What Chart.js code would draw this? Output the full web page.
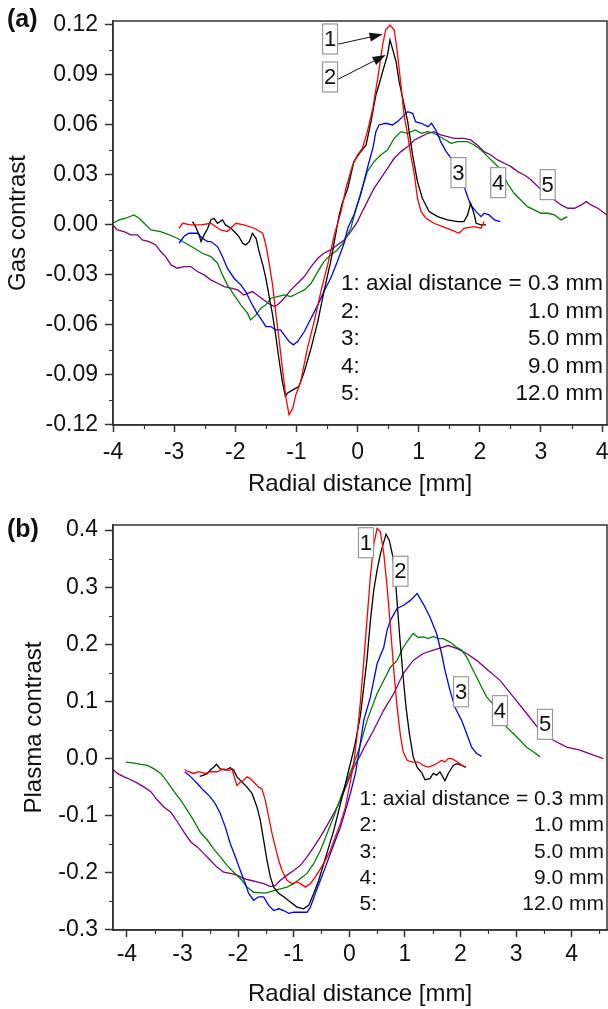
<!DOCTYPE html>
<html>
<head>
<meta charset="utf-8">
<script src="https://cdn.jsdelivr.net/npm/chart.js@4"></script>
<style>
  body { margin: 0; background: #fff; width: 608px; height: 1009px; overflow: hidden; }
  .panel { position: absolute; left: 0; width: 608px; }
</style>
</head>
<body>
<div class="panel" style="top:0;height:500px"><canvas id="gas" width="608" height="500"></canvas></div>
<div class="panel" style="top:500px;height:509px"><canvas id="plasma" width="608" height="509"></canvas></div>
<script>
const FONT = "'Liberation Sans', Arial, sans-serif";
const colors = ["#ff0000", "#000000", "#0000ff", "#008000", "#800080"];
const curveNames = ["1", "2", "3", "4", "5"];
const distances = ["0.3", "1.0", "5.0", "9.0", "12.0"];

// (a) gas contrast vs radial distance
const gasX1 = [-2.92,-2.86,-2.73,-2.56,-2.40,-2.24,-2.13,-1.99,-1.86,-1.69,-1.55,-1.50,-1.45,-1.39,-1.34,-1.28,-1.23,-1.17,-1.12,-1.06,-1.01,-0.93,-0.82,-0.71,-0.60,-0.49,-0.38,-0.27,-0.19,-0.08,0.00,0.08,0.16,0.25,0.33,0.41,0.46,0.53,0.60,0.65,0.71,0.76,0.82,0.87,0.93,0.98,1.04,1.12,1.25,1.39,1.53,1.66,1.74,1.91,2.02,2.07];
const gasY1 = [-0.002,0.001,0.000,0.000,0.001,-0.003,-0.004,0.001,0.000,-0.002,-0.005,-0.012,-0.022,-0.036,-0.052,-0.070,-0.086,-0.104,-0.114,-0.110,-0.102,-0.094,-0.074,-0.058,-0.040,-0.024,-0.006,0.008,0.022,0.036,0.042,0.046,0.056,0.070,0.088,0.108,0.117,0.120,0.117,0.104,0.084,0.066,0.054,0.042,0.030,0.016,0.008,0.004,0.001,-0.001,-0.003,-0.005,-0.002,-0.001,-0.002,0.002];
const gasX2 = [-2.70,-2.65,-2.59,-2.56,-2.51,-2.45,-2.40,-2.35,-2.29,-2.21,-2.16,-2.07,-1.99,-1.94,-1.88,-1.83,-1.77,-1.72,-1.66,-1.61,-1.55,-1.50,-1.45,-1.39,-1.34,-1.28,-1.23,-1.18,-1.15,-1.06,-0.96,-0.87,-0.76,-0.65,-0.55,-0.44,-0.36,-0.30,-0.25,-0.16,-0.06,0.03,0.14,0.22,0.30,0.35,0.41,0.49,0.53,0.57,0.63,0.68,0.74,0.82,0.90,0.98,1.06,1.17,1.31,1.47,1.64,1.74,1.80,1.85,1.91,1.94,2.02,2.10];
const gasY2 = [0.002,-0.001,-0.006,-0.010,-0.006,-0.002,0.003,0.004,0.001,0.003,0.000,-0.002,-0.005,-0.007,-0.011,-0.012,-0.010,-0.005,-0.008,-0.016,-0.024,-0.032,-0.042,-0.054,-0.066,-0.082,-0.094,-0.103,-0.101,-0.099,-0.097,-0.088,-0.074,-0.058,-0.040,-0.022,-0.006,0.006,0.013,0.022,0.038,0.043,0.048,0.062,0.078,0.084,0.092,0.102,0.111,0.106,0.098,0.086,0.076,0.062,0.042,0.026,0.016,0.008,0.005,0.003,0.002,0.002,0.006,0.013,0.006,0.001,0.000,0.000];
const gasX3 = [-2.92,-2.84,-2.76,-2.67,-2.62,-2.54,-2.45,-2.40,-2.29,-2.21,-2.13,-2.02,-1.91,-1.83,-1.75,-1.66,-1.55,-1.50,-1.42,-1.34,-1.26,-1.20,-1.12,-1.05,-0.98,-0.87,-0.76,-0.65,-0.55,-0.44,-0.33,-0.22,-0.16,-0.06,0.05,0.16,0.25,0.30,0.35,0.46,0.57,0.65,0.74,0.82,0.90,0.95,1.04,1.15,1.21,1.28,1.36,1.45,1.53,1.58,1.69,1.77,1.85,1.94,2.02,2.07,2.15,2.24,2.33];
const gasY3 = [-0.011,-0.007,-0.005,-0.005,-0.005,-0.008,-0.010,-0.010,-0.013,-0.019,-0.026,-0.032,-0.036,-0.040,-0.046,-0.052,-0.058,-0.061,-0.061,-0.063,-0.063,-0.066,-0.070,-0.072,-0.070,-0.064,-0.056,-0.048,-0.040,-0.032,-0.022,-0.011,-0.002,0.006,0.018,0.034,0.046,0.056,0.060,0.061,0.060,0.062,0.065,0.068,0.067,0.062,0.061,0.059,0.061,0.057,0.050,0.044,0.040,0.038,0.030,0.020,0.012,0.008,0.005,0.007,0.006,0.003,0.002];
const gasX4 = [-4.00,-3.90,-3.79,-3.66,-3.57,-3.49,-3.38,-3.22,-3.08,-2.95,-2.81,-2.67,-2.54,-2.40,-2.29,-2.21,-2.13,-2.02,-1.91,-1.80,-1.75,-1.66,-1.58,-1.50,-1.42,-1.31,-1.20,-1.09,-0.98,-0.87,-0.76,-0.65,-0.55,-0.44,-0.33,-0.22,-0.11,-0.06,0.05,0.16,0.27,0.38,0.49,0.60,0.71,0.82,0.95,1.04,1.15,1.25,1.39,1.53,1.64,1.80,1.91,2.02,2.13,2.24,2.35,2.45,2.56,2.67,2.78,2.89,3.00,3.11,3.22,3.33,3.43];
const gasY4 = [0.001,0.003,0.004,0.006,0.004,0.001,-0.003,-0.004,-0.006,-0.008,-0.011,-0.014,-0.017,-0.019,-0.023,-0.030,-0.036,-0.042,-0.048,-0.053,-0.057,-0.054,-0.050,-0.048,-0.044,-0.043,-0.042,-0.043,-0.041,-0.039,-0.035,-0.028,-0.022,-0.018,-0.015,-0.010,-0.002,0.005,0.019,0.032,0.038,0.042,0.045,0.052,0.056,0.055,0.057,0.055,0.056,0.055,0.052,0.049,0.050,0.050,0.048,0.045,0.041,0.037,0.033,0.025,0.019,0.015,0.011,0.009,0.007,0.007,0.006,0.003,0.005];
const gasX5 = [-4.00,-3.93,-3.82,-3.71,-3.60,-3.52,-3.41,-3.30,-3.22,-3.14,-3.05,-2.95,-2.84,-2.73,-2.62,-2.51,-2.40,-2.29,-2.18,-2.07,-1.96,-1.86,-1.72,-1.61,-1.50,-1.42,-1.35,-1.28,-1.20,-1.09,-0.98,-0.87,-0.76,-0.65,-0.55,-0.44,-0.33,-0.22,-0.11,0.00,0.05,0.16,0.27,0.38,0.49,0.60,0.71,0.82,0.93,1.04,1.15,1.25,1.36,1.47,1.58,1.74,1.85,1.96,2.07,2.18,2.29,2.40,2.51,2.62,2.73,2.84,2.95,3.03,3.11,3.22,3.33,3.44,3.55,3.66,3.74,3.82,3.93,4.04,4.08];
const gasY5 = [0.000,-0.003,-0.004,-0.006,-0.006,-0.009,-0.010,-0.012,-0.016,-0.019,-0.024,-0.026,-0.025,-0.025,-0.028,-0.030,-0.033,-0.035,-0.037,-0.038,-0.039,-0.042,-0.040,-0.043,-0.046,-0.048,-0.049,-0.047,-0.044,-0.039,-0.035,-0.031,-0.025,-0.020,-0.017,-0.015,-0.012,-0.009,-0.004,0.002,0.006,0.014,0.022,0.028,0.034,0.040,0.044,0.047,0.051,0.053,0.055,0.056,0.054,0.053,0.052,0.052,0.051,0.048,0.044,0.042,0.039,0.037,0.035,0.032,0.030,0.027,0.023,0.020,0.018,0.015,0.012,0.010,0.010,0.012,0.014,0.012,0.010,0.007,0.006];

// (b) plasma contrast vs radial distance
const plasmaX1 = [-2.96,-2.89,-2.80,-2.71,-2.59,-2.50,-2.38,-2.26,-2.17,-2.11,-2.05,-2.02,-1.96,-1.90,-1.84,-1.78,-1.72,-1.63,-1.57,-1.51,-1.45,-1.39,-1.33,-1.27,-1.21,-1.12,-1.03,-0.94,-0.88,-0.79,-0.70,-0.61,-0.52,-0.43,-0.34,-0.25,-0.16,-0.07,0.02,0.08,0.14,0.20,0.26,0.32,0.38,0.44,0.50,0.56,0.62,0.68,0.74,0.80,0.86,0.92,0.97,1.04,1.13,1.24,1.33,1.42,1.51,1.57,1.66,1.72,1.78,1.84,1.90,1.99,2.08];
const plasmaY1 = [-0.019,-0.023,-0.026,-0.023,-0.026,-0.023,-0.023,-0.018,-0.021,-0.018,-0.038,-0.047,-0.041,-0.038,-0.032,-0.035,-0.041,-0.050,-0.053,-0.073,-0.102,-0.131,-0.155,-0.178,-0.196,-0.213,-0.219,-0.216,-0.219,-0.225,-0.219,-0.207,-0.193,-0.178,-0.161,-0.137,-0.114,-0.085,-0.040,-0.008,0.040,0.100,0.170,0.245,0.320,0.375,0.403,0.397,0.359,0.301,0.230,0.155,0.090,0.040,0.012,-0.003,-0.006,-0.006,-0.012,-0.015,-0.012,-0.009,-0.003,-0.006,0.000,0.000,-0.003,-0.009,-0.015];
const plasmaX2 = [-2.69,-2.62,-2.55,-2.50,-2.44,-2.39,-2.32,-2.23,-2.14,-2.08,-2.02,-1.93,-1.84,-1.75,-1.66,-1.60,-1.54,-1.48,-1.42,-1.36,-1.27,-1.18,-1.06,-0.94,-0.82,-0.73,-0.64,-0.55,-0.46,-0.37,-0.28,-0.19,-0.10,-0.01,0.08,0.14,0.20,0.26,0.32,0.38,0.44,0.50,0.56,0.62,0.66,0.72,0.78,0.84,0.90,0.96,1.02,1.08,1.15,1.22,1.31,1.36,1.45,1.51,1.57,1.63,1.72,1.78,1.87,1.93,2.02,2.10];
const plasmaY2 = [-0.031,-0.029,-0.026,-0.020,-0.015,-0.010,-0.018,-0.020,-0.016,-0.020,-0.032,-0.041,-0.050,-0.061,-0.085,-0.108,-0.143,-0.178,-0.207,-0.225,-0.236,-0.242,-0.251,-0.260,-0.263,-0.257,-0.236,-0.213,-0.184,-0.155,-0.126,-0.091,-0.056,-0.020,0.015,0.044,0.076,0.125,0.175,0.242,0.295,0.330,0.359,0.379,0.393,0.382,0.355,0.300,0.222,0.152,0.090,0.044,0.003,-0.015,-0.026,-0.037,-0.035,-0.026,-0.029,-0.023,-0.039,-0.026,-0.012,-0.009,-0.012,-0.015];
const plasmaX3 = [-2.96,-2.85,-2.73,-2.62,-2.50,-2.41,-2.32,-2.23,-2.14,-2.05,-1.96,-1.87,-1.81,-1.72,-1.63,-1.54,-1.45,-1.36,-1.27,-1.18,-1.09,-1.00,-0.88,-0.76,-0.70,-0.61,-0.52,-0.43,-0.34,-0.25,-0.16,-0.07,0.02,0.11,0.17,0.26,0.38,0.50,0.62,0.68,0.74,0.86,0.97,1.10,1.22,1.33,1.45,1.57,1.66,1.72,1.81,1.90,2.02,2.11,2.20,2.29,2.38];
const plasmaY3 = [-0.023,-0.032,-0.044,-0.056,-0.067,-0.079,-0.096,-0.120,-0.149,-0.172,-0.196,-0.219,-0.236,-0.248,-0.242,-0.242,-0.257,-0.266,-0.263,-0.266,-0.271,-0.269,-0.269,-0.269,-0.260,-0.236,-0.213,-0.190,-0.166,-0.143,-0.120,-0.091,-0.061,-0.026,0.009,0.067,0.108,0.166,0.195,0.225,0.242,0.263,0.268,0.277,0.289,0.271,0.248,0.219,0.184,0.155,0.120,0.090,0.067,0.044,0.020,0.009,0.004];
const plasmaX4 = [-4.02,-3.87,-3.75,-3.63,-3.51,-3.39,-3.27,-3.15,-3.03,-2.91,-2.80,-2.68,-2.55,-2.44,-2.32,-2.20,-2.08,-1.96,-1.84,-1.72,-1.60,-1.48,-1.36,-1.24,-1.12,-1.00,-0.88,-0.76,-0.64,-0.52,-0.40,-0.28,-0.16,-0.04,0.08,0.17,0.32,0.50,0.65,0.74,0.86,0.97,1.10,1.15,1.24,1.33,1.42,1.51,1.60,1.69,1.81,1.93,2.02,2.11,2.20,2.29,2.38,2.47,2.59,2.71,2.83,2.95,3.07,3.19,3.31,3.43];
const plasmaY4 = [-0.006,-0.008,-0.010,-0.012,-0.018,-0.026,-0.041,-0.058,-0.073,-0.091,-0.108,-0.129,-0.143,-0.158,-0.172,-0.187,-0.199,-0.210,-0.225,-0.234,-0.235,-0.235,-0.231,-0.228,-0.225,-0.219,-0.210,-0.201,-0.184,-0.161,-0.131,-0.102,-0.070,-0.038,-0.009,0.015,0.067,0.114,0.143,0.160,0.172,0.195,0.213,0.219,0.212,0.213,0.210,0.214,0.210,0.210,0.204,0.195,0.190,0.178,0.160,0.143,0.125,0.108,0.095,0.079,0.055,0.044,0.032,0.020,0.012,0.003];
const plasmaX5 = [-4.25,-4.17,-4.05,-3.93,-3.81,-3.69,-3.57,-3.45,-3.33,-3.21,-3.09,-2.97,-2.85,-2.73,-2.62,-2.50,-2.38,-2.26,-2.14,-2.02,-1.90,-1.78,-1.66,-1.54,-1.42,-1.33,-1.24,-1.12,-1.00,-0.88,-0.76,-0.64,-0.52,-0.40,-0.28,-0.16,-0.04,0.08,0.20,0.26,0.44,0.62,0.80,0.97,1.15,1.33,1.51,1.69,1.78,1.93,2.11,2.29,2.47,2.71,2.95,3.19,3.40,3.67,3.91,4.15,4.39,4.57];
const plasmaY5 = [-0.019,-0.026,-0.032,-0.037,-0.043,-0.050,-0.058,-0.073,-0.085,-0.094,-0.111,-0.129,-0.146,-0.155,-0.166,-0.178,-0.190,-0.199,-0.201,-0.204,-0.210,-0.213,-0.216,-0.219,-0.224,-0.222,-0.213,-0.204,-0.196,-0.187,-0.172,-0.155,-0.137,-0.117,-0.096,-0.073,-0.044,-0.015,0.006,0.018,0.050,0.085,0.114,0.149,0.172,0.184,0.190,0.195,0.198,0.193,0.184,0.172,0.157,0.137,0.108,0.079,0.053,0.032,0.020,0.015,0.006,0.000];

// frame, minor ticks, curve tags, arrows and the distance list
const decor = {
  id: "decor",
  afterDraw(chart, args, o) {
    const { ctx, chartArea: a, scales: { x, y } } = chart;
    ctx.save();
    ctx.strokeStyle = "#333";
    ctx.lineWidth = 1.5;
    ctx.strokeRect(a.left, a.top, a.right - a.left, a.bottom - a.top);

    ctx.lineWidth = 1.2;
    ctx.beginPath();
    for (let k = Math.ceil(x.min / o.minorX); k * o.minorX <= x.max + 1e-9; k++) {
      if (k % 2 === 0) continue;
      const px = Math.round(x.getPixelForValue(k * o.minorX)) + 0.5;
      ctx.moveTo(px, a.bottom); ctx.lineTo(px, a.bottom + 4);
    }
    for (let k = Math.ceil(y.min / o.minorY - 1e-6); k * o.minorY <= y.max + 1e-9; k++) {
      if (k % 2 === 0) continue;
      const py = Math.round(y.getPixelForValue(k * o.minorY)) + 0.5;
      ctx.moveTo(a.left, py); ctx.lineTo(a.left - 4, py);
    }
    ctx.stroke();

    // arrows
    ctx.strokeStyle = "#111";
    ctx.fillStyle = "#111";
    ctx.lineWidth = 1;
    for (const ar of o.arrows) {
      const x0 = x.getPixelForValue(ar.from[0]), y0 = y.getPixelForValue(ar.from[1]);
      const x1 = x.getPixelForValue(ar.to[0]), y1 = y.getPixelForValue(ar.to[1]);
      const c = Math.cos(Math.atan2(y1 - y0, x1 - x0)), s = Math.sin(Math.atan2(y1 - y0, x1 - x0));
      ctx.beginPath(); ctx.moveTo(x0, y0); ctx.lineTo(x1 - 10 * c, y1 - 10 * s); ctx.stroke();
      ctx.beginPath();
      ctx.moveTo(x1, y1);
      ctx.lineTo(x1 - 13 * c + 4.5 * s, y1 - 13 * s - 4.5 * c);
      ctx.lineTo(x1 - 13 * c - 4.5 * s, y1 - 13 * s + 4.5 * c);
      ctx.closePath(); ctx.fill();
    }

    // tag boxes
    ctx.font = `22px ${FONT}`;
    ctx.textAlign = "center";
    ctx.textBaseline = "middle";
    o.tags.forEach((t, i) => {
      const cx = x.getPixelForValue(t.x), cy = y.getPixelForValue(t.y);
      ctx.fillStyle = "#fff";
      ctx.fillRect(cx - 7.5, cy - 15, 15, 30);
      ctx.strokeStyle = "#999";
      ctx.lineWidth = 1.2;
      ctx.strokeRect(cx - 7.5, cy - 15, 15, 30);
      ctx.fillStyle = "#111";
      ctx.fillText(curveNames[i], cx, cy + 1);
    });

    // distance list
    const lg = o.legend;
    ctx.font = `${lg.size}px ${FONT}`;
    ctx.textBaseline = "alphabetic";
    ctx.fillStyle = "#111";
    const right = a.right - lg.right;
    const first = `${curveNames[0]}: axial distance = ${distances[0]} mm`;
    const left = right - ctx.measureText(first).width;
    distances.forEach((d, i) => {
      const yb = a.bottom - lg.bottom - (distances.length - 1 - i) * lg.step;
      ctx.textAlign = "left";
      if (i === 0) { ctx.fillText(first, left, yb); return; }
      ctx.fillText(`${curveNames[i]}:`, left, yb);
      ctx.textAlign = "right";
      ctx.fillText(`${d} mm`, right, yb);
    });

    // panel letter
    ctx.font = `bold 25px ${FONT}`;
    ctx.textAlign = "left";
    ctx.fillText(o.letter, 7, o.letterY);
    ctx.restore();
  },
};

function makePanel(id, p) {
  const datasets = p.xs.map((xs, i) => ({
    label: curveNames[i],
    data: xs.map((v, j) => ({ x: v, y: p.ys[i][j] })),
    borderColor: colors[i],
    borderWidth: 1.3,
    pointRadius: 0,
    tension: 0,
    fill: false,
  }));
  const axisColor = "#333";
  return new Chart(document.getElementById(id), {
    type: "line",
    data: { datasets },
    options: {
      responsive: false,
      animation: false,
      devicePixelRatio: 1,
      layout: { padding: { top: p.top, right: 1, left: 0, bottom: 0 } },
      plugins: { legend: { display: false }, tooltip: { enabled: false }, decor: p.decor },
      scales: {
        x: {
          type: "linear",
          min: p.xMin, max: p.xMax,
          border: { display: true, color: axisColor, width: 1.5 },
          grid: { drawOnChartArea: false, tickLength: 7, tickColor: axisColor, tickWidth: 1.5 },
          ticks: {
            stepSize: 1, includeBounds: false, autoSkip: false, maxRotation: 0,
            padding: p.xPad, color: "#111", font: { size: 23 },
            callback: (v) => String(Math.round(v)),
          },
          title: { display: true, text: "Radial distance [mm]", color: "#111", font: { size: 24 }, padding: { top: 0, bottom: p.xTitlePad } },
          afterFit: (s) => { s.height = p.xHeight; s.paddingLeft = 0; s.paddingRight = 0; },
        },
        y: {
          min: p.yMin, max: p.yMax,
          border: { display: true, color: axisColor, width: 1.5 },
          grid: { drawOnChartArea: false, tickLength: 8, tickColor: axisColor, tickWidth: 1.5 },
          ticks: {
            stepSize: p.yStep, includeBounds: false, autoSkip: false,
            padding: 7, color: "#111", font: { size: 23 },
            callback: (v) => (Math.abs(v) < 1e-9 ? 0 : v).toFixed(p.yDigits),
          },
          title: { display: true, text: p.yTitle, color: "#111", font: { size: 24 }, padding: { top: p.yTitlePad, bottom: 0 } },
          afterFit: (s) => { s.width = 113; s.paddingTop = 0; s.paddingBottom = 0; },
        },
      },
    },
    plugins: [decor],
  });
}

Chart.defaults.font.family = FONT;

makePanel("gas", {
  xs: [gasX1, gasX2, gasX3, gasX4, gasX5],
  ys: [gasY1, gasY2, gasY3, gasY4, gasY5],
  top: 21, xHeight: 75, xPad: 7, xTitlePad: 1.5,
  xMin: -4, xMax: 4.08,
  yMin: -0.1201, yMax: 0.1224, yStep: 0.03, yDigits: 2,
  yTitle: "Gas contrast", yTitlePad: 3.5,
  decor: {
    letter: "(a)", letterY: 27,
    minorX: 0.5, minorY: 0.015,
    tags: [{ x: -0.45, y: 0.1116 }, { x: -0.45, y: 0.0888 }, { x: 1.65, y: 0.0314 }, { x: 2.30, y: 0.0254 }, { x: 3.11, y: 0.0242 }],
    arrows: [{ from: [-0.33, 0.1084], to: [0.41, 0.1144] }, { from: [-0.32, 0.0874], to: [0.46, 0.102] }],
    legend: { size: 22.5, right: 4, bottom: 25, step: 27.5 },
  },
});

makePanel("plasma", {
  xs: [plasmaX1, plasmaX2, plasmaX3, plasmaX4, plasmaX5],
  ys: [plasmaY1, plasmaY2, plasmaY3, plasmaY4, plasmaY5],
  top: 25, xHeight: 79, xPad: 4, xTitlePad: 0.5,
  xMin: -4.25, xMax: 4.635,
  yMin: -0.3001, yMax: 0.409, yStep: 0.1, yDigits: 1,
  yTitle: "Plasma contrast", yTitlePad: 19.5,
  decor: {
    letter: "(b)", letterY: 37,
    minorX: 0.5, minorY: 0.05,
    tags: [{ x: 0.30, y: 0.378 }, { x: 0.92, y: 0.328 }, { x: 2.01, y: 0.117 }, { x: 2.71, y: 0.084 }, { x: 3.52, y: 0.060 }],
    arrows: [],
    legend: { size: 21, right: 3, bottom: 20, step: 26.25 },
  },
});
</script>
</body>
</html>
